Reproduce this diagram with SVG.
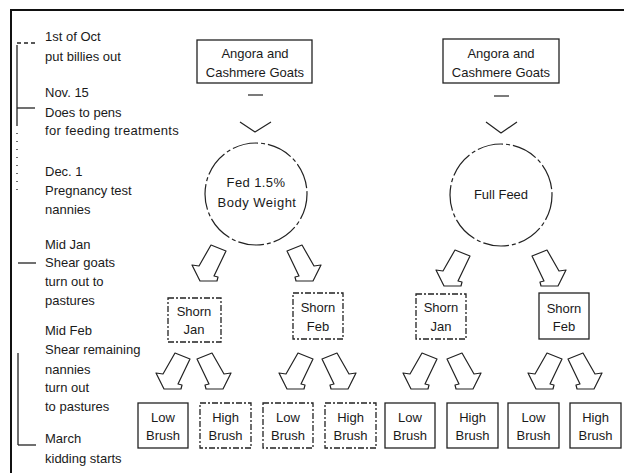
<svg xmlns="http://www.w3.org/2000/svg" xmlns:xlink="http://www.w3.org/1999/xlink" width="624" height="473" viewBox="0 0 624 473">
<style>
text{font-family:"Liberation Sans",Arial,sans-serif;font-size:13px;fill:#1a1a1a}
.c{text-anchor:middle}
.box{fill:none;stroke:#222;stroke-width:1.3}
.dash{fill:none;stroke:#222;stroke-width:1.3;stroke-dasharray:6 2 2 2}
.circ{fill:none;stroke:#222;stroke-width:1.2;stroke-dasharray:26 3 4 3}
.ln{fill:none;stroke:#222;stroke-width:1.3}
.arr{fill:none;stroke:#222;stroke-width:1.2;stroke-linejoin:round}
</style>
<defs>
<path id="arr" d="M0,0 L15,6 L3,31 L7,32 L6,36 L-11,36 L-19,20 L-12,21 Z"/>
</defs>
<rect width="624" height="473" fill="#fff"/>
<g id="frame">
<line x1="10" y1="10" x2="624" y2="10" stroke="#111" stroke-width="2.2"/>
<line x1="11" y1="10" x2="11" y2="473" stroke="#111" stroke-width="2"/>
</g>
<g id="timeline">
<line class="ln" x1="17" y1="43" x2="35" y2="43" stroke-dasharray="4 3"/>
<line class="ln" x1="17" y1="45" x2="17" y2="125"/>
<line class="ln" x1="17" y1="125" x2="17" y2="190" stroke-dasharray="1 7"/>
<line class="ln" x1="17" y1="108" x2="35" y2="108"/>
<line class="ln" x1="18" y1="263" x2="36" y2="263"/>
<line class="ln" x1="18" y1="353" x2="18" y2="445"/>
<line class="ln" x1="18" y1="445" x2="36" y2="445"/>
<text x="45" y="41">1st of Oct</text>
<text x="45" y="61">put billies out</text>
<text x="45" y="97">Nov. 15</text>
<text x="45" y="117">Does to pens</text>
<text x="45" y="135" letter-spacing="0.35">for feeding treatments</text>
<text x="45" y="176">Dec. 1</text>
<text x="45" y="195">Pregnancy test</text>
<text x="45" y="214">nannies</text>
<text x="45" y="249">Mid Jan</text>
<text x="45" y="267">Shear goats</text>
<text x="45" y="286">turn out to</text>
<text x="45" y="305">pastures</text>
<text x="45" y="335">Mid Feb</text>
<text x="45" y="354">Shear remaining</text>
<text x="45" y="374">nannies</text>
<text x="45" y="392">turn out</text>
<text x="45" y="411">to pastures</text>
<text x="45" y="443">March</text>
<text x="45" y="463">kidding starts</text>
</g>
<g id="goats-left">
<rect class="box" x="197" y="40" width="115" height="43"/>
<text class="c" x="255" y="58">Angora and</text>
<text class="c" x="255" y="77">Cashmere Goats</text>
</g>
<g id="goats-right">
<rect class="box" x="443" y="39" width="116" height="44"/>
<text class="c" x="501" y="58">Angora and</text>
<text class="c" x="501" y="77">Cashmere Goats</text>
</g>
<g id="fed15">
<circle class="circ" cx="256" cy="194" r="51"/>
<text class="c" x="256" y="187" letter-spacing="0.4">Fed 1.5%</text>
<text class="c" x="257" y="207" letter-spacing="0.5">Body Weight</text>
</g>
<g id="fullfeed">
<circle class="circ" cx="501" cy="195" r="51"/>
<text class="c" x="501" y="199">Full Feed</text>
</g>
<g id="shorn-jan-l">
<rect class="dash" x="168" y="298" width="53" height="44"/>
<text class="c" x="194" y="316">Shorn</text>
<text class="c" x="194" y="334">Jan</text>
</g>
<g id="shorn-feb-l">
<rect class="dash" x="293" y="293" width="50" height="46"/>
<text class="c" x="318" y="312">Shorn</text>
<text class="c" x="318" y="331">Feb</text>
</g>
<g id="shorn-jan-r">
<rect class="dash" x="416" y="294" width="50" height="45"/>
<text class="c" x="441" y="312">Shorn</text>
<text class="c" x="441" y="331">Jan</text>
</g>
<g id="shorn-feb-r">
<rect class="box" x="539" y="293" width="50" height="46"/>
<text class="c" x="564" y="313">Shorn</text>
<text class="c" x="564" y="331">Feb</text>
</g>
<g id="low1"><rect class="box" x="138" y="403" width="50" height="45"/><text class="c" x="163" y="422">Low</text><text class="c" x="163" y="440">Brush</text></g>
<g id="high1"><rect class="dash" x="200" y="403" width="51" height="45"/><text class="c" x="225.5" y="422">High</text><text class="c" x="225.5" y="440">Brush</text></g>
<g id="low2"><rect class="dash" x="263" y="403" width="50" height="45"/><text class="c" x="288" y="422">Low</text><text class="c" x="288" y="440">Brush</text></g>
<g id="high2"><rect class="dash" x="325" y="403" width="51" height="45"/><text class="c" x="350.5" y="422">High</text><text class="c" x="350.5" y="440">Brush</text></g>
<g id="low3"><rect class="box" x="385" y="403" width="50" height="45"/><text class="c" x="410" y="422">Low</text><text class="c" x="410" y="440">Brush</text></g>
<g id="high3"><rect class="box" x="447" y="403" width="51" height="45"/><text class="c" x="472.5" y="422">High</text><text class="c" x="472.5" y="440">Brush</text></g>
<g id="low4"><rect class="box" x="508" y="403" width="51" height="45"/><text class="c" x="533.5" y="422">Low</text><text class="c" x="533.5" y="440">Brush</text></g>
<g id="high4"><rect class="box" x="570" y="403" width="51" height="45"/><text class="c" x="595.5" y="422">High</text><text class="c" x="595.5" y="440">Brush</text></g>
<g id="connectors" class="arr">
<line x1="248" y1="95" x2="263" y2="95"/>
<polyline points="240,122 255,132 271,122"/>
<line x1="494" y1="96" x2="509" y2="96"/>
<polyline points="486,122 501,133 517,122"/>
<use href="#arr" transform="translate(211,245)"/>
<use href="#arr" transform="translate(302,245) scale(-1,1)"/>
<use href="#arr" transform="translate(455,250)"/>
<use href="#arr" transform="translate(547,250) scale(-1,1)"/>
<use href="#arr" transform="translate(175,353)"/>
<use href="#arr" transform="translate(212,353) scale(-1,1)"/>
<use href="#arr" transform="translate(298,353)"/>
<use href="#arr" transform="translate(337,353) scale(-1,1)"/>
<use href="#arr" transform="translate(422,353)"/>
<use href="#arr" transform="translate(462,353) scale(-1,1)"/>
<use href="#arr" transform="translate(547,353)"/>
<use href="#arr" transform="translate(583,353) scale(-1,1)"/>
</g>
</svg>
